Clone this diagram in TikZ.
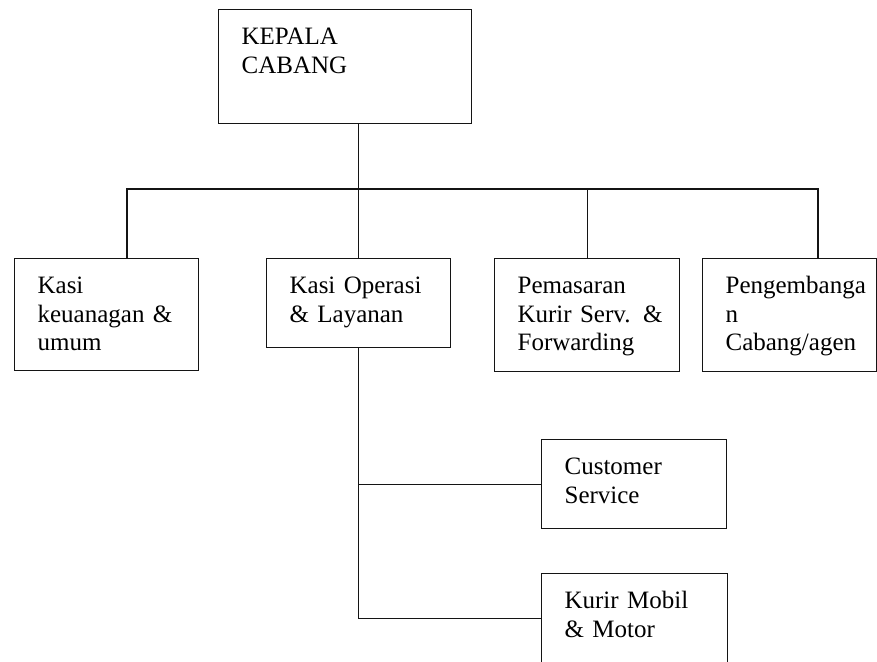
\documentclass[tikz,border=0pt]{standalone}
\usepackage{fontspec}
\setmainfont{Liberation Serif}
\usepackage{xcolor}
\definecolor{inkdark}{HTML}{141414}
\usepackage{tikz}

\begin{document}
\begin{tikzpicture}[x=1pt, y=-1pt,
    font=\fontsize{25}{28.5}\selectfont,
    unit/.style={draw=inkdark, line width=1.2pt, anchor=north west,
                 align=left, inner xsep=23pt, inner ysep=0pt, text height=35pt},
    link/.style={line width=1.2pt, color=inkdark}]
  \useasboundingbox (0,0) rectangle (877,661);
  \node[unit, text width=207pt, text depth=79pt] (chief) at (218,9) {KEPALA\\CABANG};
  \node[unit, text width=138pt, text depth=77pt] (keu) at (14,258) {Kasi\\\mbox{keuanagan \&}\\umum};
  \node[unit, text width=138pt, text depth=54pt] (ops) at (266,258) {\mbox{Kasi Operasi}\\\& Layanan};
  \node[unit, text width=139pt, text depth=78pt] (pem) at (494,258) {Pemasaran\\\mbox{Kurir Serv. \&}\\Forwarding};
  \node[unit, text width=128pt, text depth=78pt] (peng) at (702,258) {Pengembanga\\n\\Cabang/agen};
  \node[unit, text width=139pt, text depth=54pt] (cs) at (541,439) {Customer\\Service};
  \node[unit, text width=140pt, text depth=55pt] (kurir) at (541,573) {\mbox{Kurir Mobil}\\\& Motor};
  % bus between the two levels
  \coordinate (busL) at (127,189);
  \coordinate (busR) at (818,189);
  \draw[link] (chief.south -| ops.north) -- (ops.north);
  \draw[link] (keu.north -| busL) -- (busL) -- (busR) -- (peng.north -| busR);
  \draw[link] (pem.north) -- (pem.north |- busL);
  % staff under operations
  \draw[link] (ops.south) |- (kurir.west);
  \draw[link] (ops.south |- cs.west) -- (cs.west);
\end{tikzpicture}
\end{document}
